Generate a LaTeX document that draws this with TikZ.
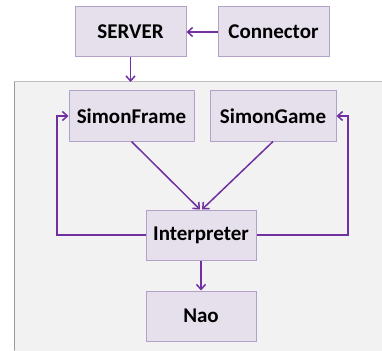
\documentclass[tikz,border=0pt]{standalone}
\usepackage{fontspec}
\setmainfont{Carlito}
\usetikzlibrary{arrows.meta, calc}
\definecolor{boxfill}{HTML}{E6E0EC}
\definecolor{boxline}{HTML}{B3A2C7}
\definecolor{arrowcol}{HTML}{7030A0}
\definecolor{bgfill}{HTML}{F2F2F2}
\definecolor{bgline}{HTML}{BFBFBF}

\begin{document}
\begin{tikzpicture}[x=1pt, y=-1pt,
	block/.style={draw=boxline, fill=boxfill, line width=1pt, minimum height=50pt, inner sep=0pt, font=\bfseries\fontsize{21}{24}\selectfont},
	link/.style={draw=arrowcol, line width=1.5pt, -{Straight Barb[length=5pt, width=9pt]}}]
	
	\useasboundingbox (0,0) rectangle (382,350);
	
% background panel
	\draw[bgline, fill=bgfill, line width=1pt] (14.5,82) rectangle (400,370);
	\draw[bgline!80!black, line width=1.5pt] (14.5,82) -- (14.5,350);
	
% boxes
	\node[block, minimum width=111pt] (server) at (130.5,32) {SERVER};
	\node[block, minimum width=111pt] (conn) at (273.5,32) {Connector};
	\node[block, minimum width=125pt] (frame) at (131.5,116) {SimonFrame};
	\node[block, minimum width=126pt] (game) at (273,116) {SimonGame};
	\node[block, minimum width=110pt] (interp) at (201,235) {Interpreter};
	\node[block, minimum width=110pt] (nao) at (201,316) {Nao};
	
	\coordinate (top) at (130.5,82);
	\coordinate (lft) at (57,235);
	\coordinate (rgt) at (348,235);
	
% links
	\draw[link] (conn) -- (server);
	\draw[link] (server) -- (top);
	\draw[link] (frame.south) -- ($(interp.north)+(-1,0)$);
	\draw[link] (game.south) -- ($(interp.north)+(1,0)$);
	\draw[link] (interp) -- (nao);
	
	% feedback
	\draw[link] (interp.west) -- (lft) |- (frame.west);
	\draw[link] (interp.east) -- (rgt) |- (game.east);

\end{tikzpicture}
\end{document}
